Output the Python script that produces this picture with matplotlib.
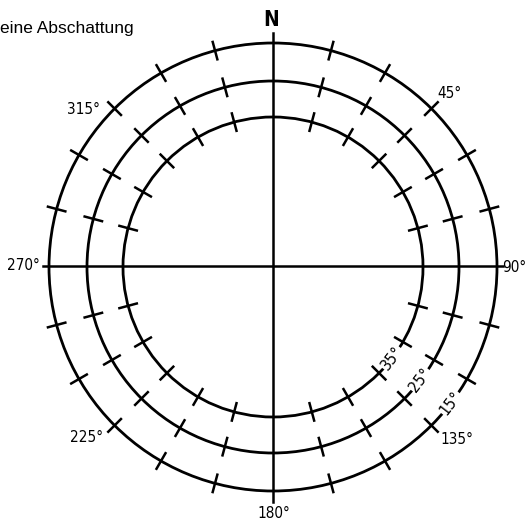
import numpy as np
import matplotlib
matplotlib.use("Agg")
import matplotlib.pyplot as plt
from matplotlib import font_manager
from matplotlib.patches import Circle

# Sonnenstandsdiagramm - keine Abschattung
title = "eine Abschattung"

# Elevationskreise (Grad) und ihr Radius im Bild (px)
elevations = [15, 25, 35]
radii = [224, 186, 150]
elev_label_azimuth = 127.5

# Azimut-Striche alle 15 Grad (ohne die Hauptachsen)
tick_azimuths = [a for a in range(15, 360, 15) if a % 90 != 0]

# Azimut-Beschriftungen
az_texts = ["N", "45°", "90°", "135°", "180°", "225°", "270°", "315°"]
az_values = [0, 45, 90, 135, 180, 225, 270, 315]

names = {f.name for f in font_manager.fontManager.ttflist}
narrow = "Liberation Sans Narrow" if "Liberation Sans Narrow" in names else "DejaVu Sans"

cx, cy = 273, 267
tick_half = 9

fig = plt.figure(figsize=(5.27, 5.23), dpi=100)
ax = fig.add_axes([0, 0, 1, 1])
ax.set_xlim(0, 527)
ax.set_ylim(523, 0)
ax.axis("off")


def pos(az, r):
    a = np.radians(az)
    return cx + r * np.sin(a), cy - r * np.cos(a)


# Achsenkreuz
ax.plot([cx - 230, cx + 230], [cy - 1, cy - 1], color="black", lw=1.8, zorder=2)
ax.plot([cx, cx], [cy - 234, cy + 235], color="black", lw=1.8, zorder=2)

# Kreise + Striche
for r in radii:
    ax.add_patch(Circle((cx, cy), r, fill=False, ec="black", lw=2.0, zorder=2))
    for az in tick_azimuths:
        x0, y0 = pos(az, r - tick_half)
        x1, y1 = pos(az, r + tick_half)
        ax.plot([x0, x1], [y0, y1], color="black", lw=1.8, zorder=2)

# Elevationsbeschriftung entlang der Kreise
for elev, r in zip(elevations, radii):
    x, y = pos(elev_label_azimuth, r)
    ax.text(x, y, f"{elev}°", rotation=180 - elev_label_azimuth,
            ha="center", va="center", rotation_mode="anchor",
            family=narrow, fontstretch="condensed", fontsize=11.5, zorder=3,
            bbox=dict(boxstyle="square,pad=0.05", fc="white", ec="none"))

# Azimutbeschriftung aussen (Versatz zum Mittelpunkt in px)
offsets = {
    0: (-2, -247, "center"), 45: (164, -174, "left"), 90: (253, 0, "right"),
    135: (167, 172, "left"), 180: (1, 247, "center"), 225: (-170, 171, "right"),
    270: (-233, -1, "right"), 315: (-173, -157, "right"),
}
for text, az in zip(az_texts, az_values):
    dx, dy, ha = offsets[az]
    if text == "N":
        ax.text(cx + dx, cy + dy, text, ha=ha, va="center", family=narrow,
                fontstretch="condensed", fontsize=15, fontweight="bold", zorder=3)
    else:
        ax.text(cx + dx, cy + dy, text, ha=ha, va="center", family=narrow,
                fontstretch="condensed", fontsize=11, zorder=3)

ax.text(0, 28, title, ha="left", va="center", family="Liberation Sans", fontsize=12.5)

fig.savefig("out.png", dpi=100, facecolor="white")
